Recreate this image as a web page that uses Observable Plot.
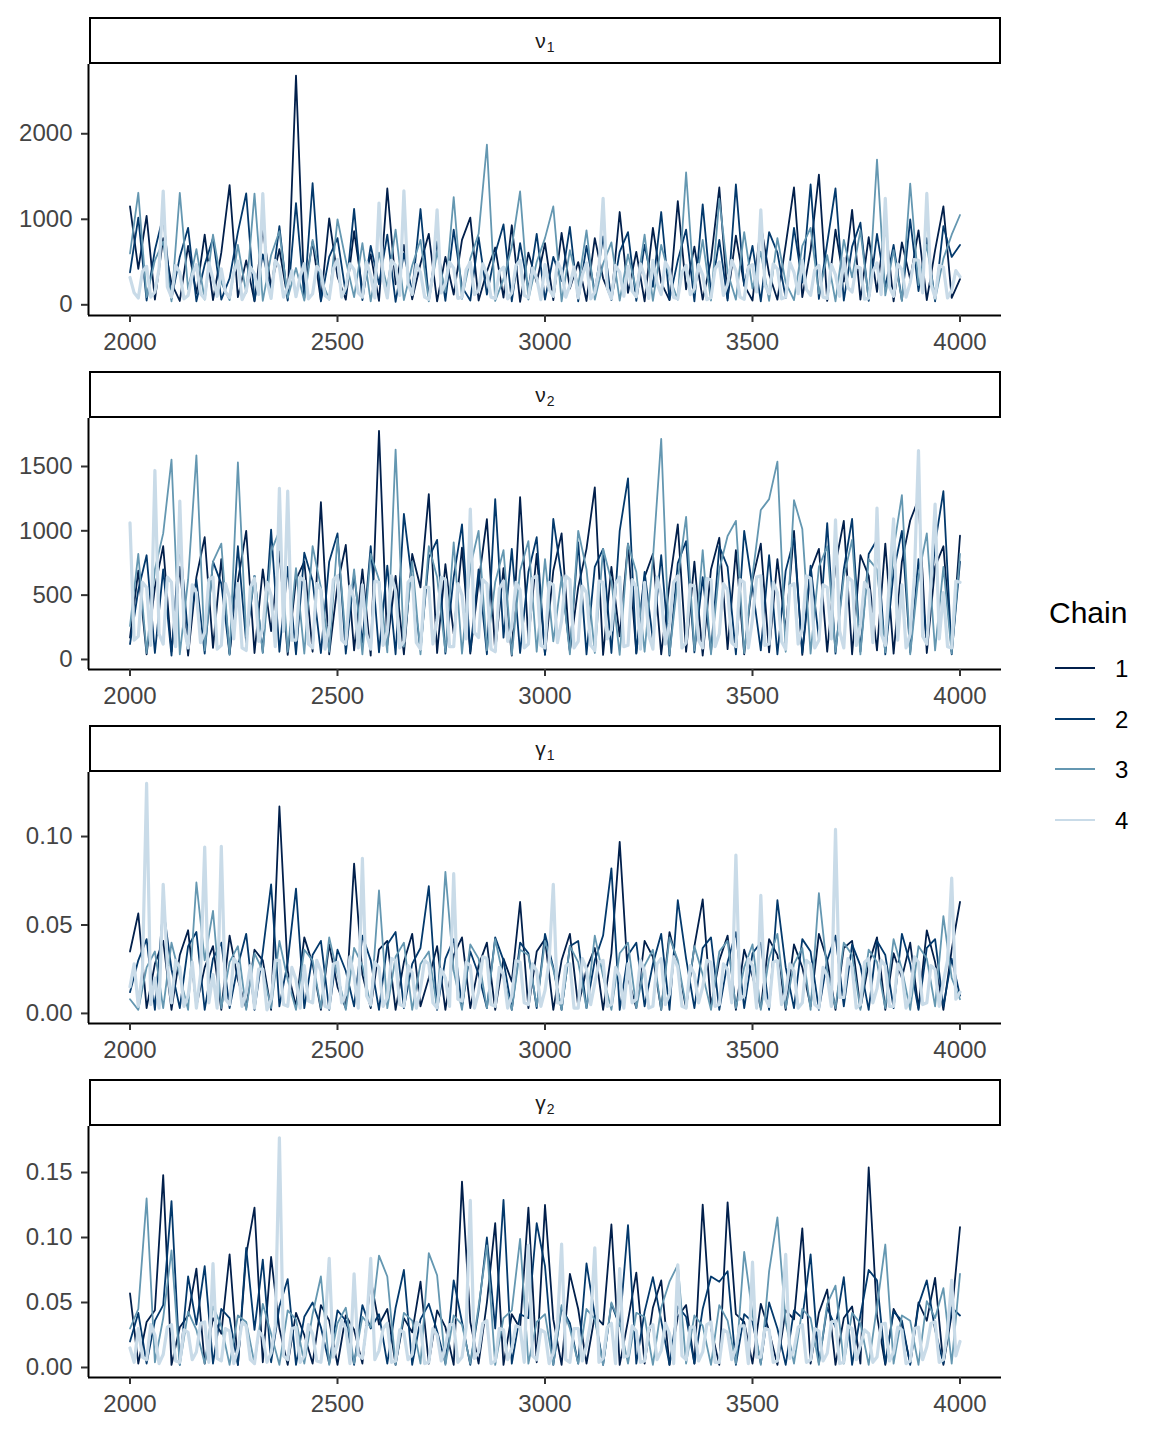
<!DOCTYPE html>
<html>
<head>
<meta charset="utf-8">
<script src="https://cdn.jsdelivr.net/npm/d3@7"></script>
<script src="https://cdn.jsdelivr.net/npm/@observablehq/plot@0.6"></script>
<style>
  body { margin: 0; background: #fff; }
  #root { position: relative; width: 1166px; height: 1432px; font-family: "Liberation Sans", Arial, sans-serif; background:#fff; }
  .strip { position: absolute; left: 89px; width: 912px; height: 47px; box-sizing: border-box; border: 2px solid #000;
           display: flex; align-items: center; justify-content: center; color: #1a1a1a; }
  .strip .g { font-size: 21px; }
  .strip .s { font-size: 14px; position: relative; top: 6px; margin-left: 1px; }
  .panel { position: absolute; left: 0; }
  .lg-title { position: absolute; left: 1049px; top: 596px; font-size: 30px; color: #000; }
  .lg-key { position: absolute; left: 1055px; width: 40px; height: 2px; }
  .lg-lab { position: absolute; left: 1115px; font-size: 24px; color: #000; line-height: 24px; }
</style>
</head>
<body>
<div id="root"></div>
<script>
// ---- iterations (x) and tick labels ----
// chains 1-3 are read every 20 iterations, chain 4 (the light band) every 10
const iterations = d3.range(2000, 4001, 20);
const iterFine = d3.range(2000, 4001, 10);
const xTicks = [2000, 2500, 3000, 3500, 4000];
const chains = ["1", "2", "3", "4"];
const chainColors = ["#011f4b", "#03396c", "#6497b1", "#c9dbe8"];
const chainWidths = [1.8, 1.8, 1.8, 3.2];

// ---- nu_1 ----
const nu1Ticks = [0, 1000, 2000];
const nu1_c1 = [1150,420,1040,60,780,250,45,690,130,820, 55,610,1400,90,520,40,880,210,650,70,
  2680,150,740,50,1010,330,60,860,180,590, 45,1360,240,700,65,480,830,40,560,120,
  760,1020,50,390,670,85,930,35,610,260, 720,55,840,190,500,45,780,310,70,1085,
  140,620,40,900,260,55,1213,180,680,60, 520,1372,75,810,230,50,940,360,60,700,
  1372,90,640,1523,45,880,270,1110,60,790, 150,960,40,730,300,870,55,640,1151,80, 300];
const nu1_c2 = [380,1020,50,640,1040,70,560,900,40,470, 780,60,310,850,1302,45,590,160,920,50,
  1190,80,1422,40,560,780,130,1122,55,690, 240,820,35,600,150,1120,70,740,45,880,
  210,50,790,120,600,940,40,720,180,830, 60,560,280,910,40,690,150,800,55,620,
  850,45,700,210,1085,60,520,880,40,1174, 130,760,50,1407,220,690,40,850,610,80,
  900,260,1407,70,720,1360,50,680,960,45, 830,210,700,50,1000,160,780,40,920,560, 700];
const nu1_c3 = [600,1310,90,520,740,40,1310,180,650,60, 820,260,55,700,140,1300,45,580,860,80,
  430,50,760,300,60,1000,520,90,720,40, 610,200,880,55,460,760,40,620,150,1260,
  70,540,830,1872,45,300,680,1325,60,500, 780,1150,40,640,220,870,60,480,730,50,
  590,170,820,45,700,320,60,1547,140,760, 50,1240,380,60,850,190,620,45,780,260,
  55,690,900,130,580,40,760,320,870,60, 1698,110,640,45,1418,230,700,60,540,820, 1050];
const nu1_c4 = [
  320,140,80,390,450,90,150,420,1330,210,90,460,380,70,110,350,470,130,70,490,
  300,100,420,150,85,380,510,60,160,440,360,120,1300,280,75,520,440,90,210,400,
  95,330,480,70,130,450,390,110,70,420,530,90,200,480,410,140,90,500,340,80,
  1190,300,80,520,460,110,1333,250,120,470,380,90,65,360,1110,140,250,500,430,75,
  90,410,500,120,170,480,360,90,75,390,440,70,140,460,520,110,85,430,310,60,
  470,180,100,500,400,90,230,440,80,350,490,70,150,410,1244,200,70,460,380,100,
  450,160,95,480,330,75,520,250,120,500,410,85,70,380,460,120,190,470,350,60,
  85,420,500,110,240,520,400,90,65,440,470,150,1110,230,130,480,420,70,90,500,
  380,130,520,180,110,410,460,90,75,470,350,100,540,200,150,450,430,65,80,390,
  490,120,1245,210,100,480,410,90,260,530,520,140,1302,240,85,460,440,80,170,400,
  330];

// ---- nu_2 ----
const nu2Ticks = [0, 500, 1000, 1500];
const nu2_c1 = [170,690,40,560,880,60,720,30,640,950, 90,780,45,610,1000,50,700,220,840,35,
  620,760,60,1223,40,580,890,70,700,30, 1777,110,650,40,820,560,1285,50,740,200,
  870,45,600,1090,60,710,30,1262,150,820, 40,690,980,70,560,860,1338,35,720,180,
  900,50,640,820,40,590,1050,60,760,30, 700,946,80,850,40,620,900,55,780,220,
  1000,35,690,860,60,740,1077,40,810,650, 70,900,45,760,1080,1246,50,720,880,60, 962];
const nu2_c2 = [120,540,810,50,700,30,930,180,620,45, 760,590,40,880,130,650,55,1010,60,720,
  40,830,610,50,760,980,45,660,130,880, 55,730,40,1131,600,70,790,930,45,640,
  1050,60,700,40,1246,170,860,50,680,950, 35,1092,640,60,910,40,720,860,50,1000,
  1408,45,680,150,810,30,750,920,55,640, 60,880,720,40,1000,560,70,810,40,690,
  940,50,730,160,1060,45,700,1092,60,820, 930,40,680,1000,55,780,150,900,1308,40, 760];
const nu2_c3 = [260,820,50,700,980,1554,40,620,1587,70, 760,900,35,1531,180,650,50,840,1000,60,
  710,45,880,560,60,940,150,700,40,820, 620,55,1631,100,760,40,880,640,60,910,
  45,720,1000,70,600,850,35,690,920,60, 780,140,640,40,1000,700,50,860,610,35,
  900,680,60,780,1715,40,620,1108,70,850, 40,700,960,1077,50,650,1162,1246,1538,60,
  1238,1015,45,720,880,60,640,930,40,780, 700,55,860,1277,40,650,980,70,720,45, 820];
const nu2_c4 = [
  1062,150,180,600,560,110,1469,200,120,640,600,100,1231,250,90,580,520,130,210,620,
  640,80,110,590,480,160,590,90,70,560,630,140,240,600,500,100,1331,220,1308,150,
  150,640,610,120,90,590,540,80,260,620,650,150,120,570,470,90,580,200,80,610,
  600,110,220,650,530,90,140,600,640,130,80,560,560,120,310,640,620,100,100,590,
  500,160,1169,210,170,620,590,80,60,550,610,140,250,600,540,90,120,630,650,110,
  90,600,580,130,300,650,620,90,140,570,520,110,70,610,600,160,230,590,640,100,
  110,620,560,80,600,190,80,640,510,120,280,600,650,90,130,580,570,150,90,630,
  620,100,200,590,540,130,100,620,600,90,310,640,650,110,120,600,520,140,80,570,
  590,120,240,650,630,90,150,580,560,160,1085,220,90,640,610,110,270,600,540,130,
  1177,200,110,620,1092,150,580,90,200,640,1623,180,120,590,1208,160,520,100,90,610,
  600];

// ---- gamma_1 ----
const g1Ticks = [0, 0.05, 0.10];
const g1_c1 = [.035,.0565,.003,.028,.041,.002,.033,.047,.004,.026, .038,.002,.044,.019,.003,.036,.030,.002,.117,.024,
  .004,.043,.028,.002,.039,.015,.003,.0847,.022,.003, .036,.041,.002,.029,.045,.004,.020,.038,.002,.033,
  .043,.003,.027,.040,.002,.031,.018,.063,.003,.035, .042,.002,.030,.045,.004,.025,.037,.002,.034,.097,
  .020,.003,.041,.032,.002,.046,.027,.003,.038,.0645, .004,.030,.044,.002,.036,.021,.003,.042,.033,.002,
  .039,.026,.004,.045,.030,.002,.037,.041,.003,.028, .043,.002,.034,.020,.040,.003,.047,.029,.002,.036, .063];
const g1_c2 = [.012,.030,.042,.002,.060,.025,.003,.038,.046,.002, .031,.040,.003,.027,.045,.002,.035,.073,.004,.029,
  .0706,.003,.033,.041,.002,.036,.024,.004,.044,.030, .002,.039,.046,.003,.028,.037,.072,.002,.031,.042,
  .004,.035,.022,.003,.043,.030,.002,.040,.034,.003, .045,.026,.002,.038,.041,.003,.030,.044,.082,.002,
  .033,.040,.004,.028,.045,.002,.064,.031,.003,.037, .043,.002,.029,.046,.003,.034,.040,.002,.064,.026,
  .003,.042,.035,.002,.030,.044,.004,.039,.027,.002, .041,.033,.003,.045,.028,.002,.037,.042,.004,.031, .010];
const g1_c3 = [.008,.002,.026,.035,.003,.040,.021,.002,.074,.030, .058,.003,.029,.038,.002,.034,.024,.003,.041,.019,
  .002,.036,.030,.003,.043,.022,.002,.037,.027,.004, .0695,.003,.032,.040,.002,.028,.035,.003,.080,.024,
  .002,.039,.031,.003,.042,.020,.002,.036,.033,.004, .041,.025,.002,.038,.029,.003,.044,.021,.002,.034,
  .040,.003,.027,.036,.002,.043,.030,.004,.038,.022, .002,.035,.041,.003,.026,.039,.002,.031,.045,.003,
  .028,.037,.002,.068,.024,.003,.040,.033,.002,.036, .029,.003,.042,.025,.002,.038,.031,.004,.055,.020, .008];
const g1_c4 = [
  .015,.028,.004,.024,.130,.005,.020,.003,.073,.027,.006,.030,.026,.004,.010,.029,.003,.022,.094,.006,
  .022,.003,.0945,.008,.005,.031,.028,.004,.012,.027,.003,.025,.025,.002,.008,.030,.030,.005,.004,.026,
  .019,.003,.027,.007,.006,.030,.024,.004,.003,.028,.029,.006,.011,.032,.021,.003,.0876,.010,.005,.029,
  .026,.004,.009,.031,.030,.005,.004,.027,.023,.003,.014,.030,.028,.006,.003,.025,.020,.004,.079,.008,
  .007,.029,.027,.003,.012,.032,.031,.005,.004,.026,.022,.003,.010,.030,.029,.006,.005,.028,.024,.004,
  .013,.030,.073,.006,.006,.027,.028,.003,.003,.031,.025,.005,.017,.029,.030,.004,.005,.026,.021,.003,
  .028,.006,.008,.030,.024,.003,.004,.028,.031,.005,.011,.032,.026,.004,.003,.027,.022,.006,.015,.030,
  .029,.004,.005,.028,.025,.006,.0895,.008,.010,.031,.027,.003,.0667,.009,.004,.029,.030,.005,.012,.028,
  .024,.003,.006,.030,.028,.005,.003,.026,.021,.004,.104,.009,.009,.031,.026,.003,.005,.029,.031,.006,
  .014,.030,.027,.004,.004,.028,.023,.003,.010,.032,.029,.005,.006,.027,.025,.004,.018,.030,.0765,.008,
  .012];

// ---- gamma_2 ----
const g2Ticks = [0, 0.05, 0.10, 0.15];
const g2_c1 = [.057,.003,.035,.044,.148,.002,.031,.040,.076,.003, .038,.026,.087,.002,.087,.123,.004,.085,.030,.002,
  .042,.025,.003,.048,.036,.002,.040,.029,.003,.068, .033,.045,.002,.038,.027,.066,.003,.044,.031,.002,
  .143,.035,.003,.050,.111,.002,.041,.030,.123,.004, .125,.037,.002,.072,.045,.003,.040,.033,.110,.002,
  .036,.073,.003,.046,.067,.002,.039,.048,.003,.1253, .030,.002,.127,.041,.035,.003,.049,.028,.002,.044,
  .037,.107,.003,.042,.060,.002,.038,.047,.003,.154, .040,.002,.045,.033,.003,.050,.036,.069,.002,.041, .108];
const g2_c2 = [.020,.042,.003,.036,.048,.128,.002,.070,.033,.078, .003,.045,.038,.002,.092,.029,.083,.004,.047,.068,
  .002,.039,.050,.031,.003,.044,.036,.002,.048,.030, .041,.003,.046,.075,.002,.037,.049,.028,.003,.067,
  .035,.002,.044,.100,.030,.129,.003,.041,.038,.111, .078,.002,.046,.034,.003,.080,.040,.002,.049,.032,
  .1095,.003,.043,.0695,.036,.002,.047,.039,.003,.045, .070,.066,.074,.002,.041,.035,.003,.050,.030,.002,
  .044,.038,.087,.003,.046,.031,.0695,.002,.040,.075, .067,.003,.043,.036,.002,.048,.067,.029,.003,.046, .040];
const g2_c3 = [.030,.045,.130,.004,.038,.090,.002,.043,.029,.003, .047,.032,.002,.040,.035,.003,.049,.026,.002,.044,
  .037,.003,.041,.070,.002,.034,.046,.003,.039,.031, .086,.070,.002,.042,.036,.003,.088,.071,.002,.040,
  .033,.003,.047,.094,.002,.038,.044,.099,.003,.035, .041,.002,.048,.030,.003,.045,.037,.002,.050,.034,
  .003,.042,.039,.002,.046,.066,.079,.003,.040,.032, .002,.048,.036,.003,.089,.041,.002,.074,.1155,.035,
  .003,.045,.038,.002,.049,.063,.003,.042,.034,.002, .047,.0946,.003,.040,.036,.002,.051,.038,.061,.003, .072];
const g2_c4 = [
  .015,.004,.030,.008,.006,.033,.025,.003,.010,.031,.033,.005,.004,.029,.027,.006,.012,.034,.035,.004,
  .080,.007,.005,.030,.028,.003,.014,.035,.032,.006,.003,.028,.024,.004,.011,.032,.1767,.009,.006,.030,
  .031,.004,.009,.033,.026,.005,.004,.031,.084,.008,.018,.036,.030,.003,.072,.010,.007,.032,.084,.006,
  .013,.030,.034,.004,.005,.029,.027,.006,.010,.035,.032,.003,.004,.030,.025,.005,.016,.033,.033,.004,
  .008,.031,.1285,.007,.012,.034,.036,.003,.005,.030,.029,.006,.015,.032,.031,.004,.094,.009,.006,.029,
  .027,.003,.011,.033,.095,.006,.004,.030,.030,.005,.017,.035,.092,.004,.007,.031,.034,.003,.076,.008,
  .009,.032,.028,.004,.005,.030,.033,.006,.013,.034,.026,.003,.079,.009,.006,.031,.031,.005,.012,.033,
  .035,.004,.004,.029,.027,.006,.015,.032,.032,.003,.081,.008,.008,.030,.029,.004,.005,.034,.087,.007,
  .014,.031,.033,.004,.006,.030,.028,.005,.011,.035,.036,.003,.004,.032,.030,.006,.017,.029,.026,.004,
  .008,.033,.034,.005,.012,.031,.029,.003,.005,.030,.031,.006,.016,.034,.035,.004,.006,.029,.067,.009,
  .020];

// ---- panel definitions ----
const panels = [
  { sym: "ν", sub: "1", series: [nu1_c1, nu1_c2, nu1_c3, nu1_c4], domain: [-125, 2810], ticks: nu1Ticks, fmt: d3.format("d") },
  { sym: "ν", sub: "2", series: [nu2_c1, nu2_c2, nu2_c3, nu2_c4], domain: [-78, 1873], ticks: nu2Ticks, fmt: d3.format("d") },
  { sym: "γ", sub: "1", series: [g1_c1, g1_c2, g1_c3, g1_c4], domain: [-0.0057, 0.1362], ticks: g1Ticks, fmt: d3.format(".2f") },
  { sym: "γ", sub: "2", series: [g2_c1, g2_c2, g2_c3, g2_c4], domain: [-0.0077, 0.1854], ticks: g2Ticks, fmt: d3.format(".2f") }
];

const root = document.getElementById("root");
const STEP = 354;
const PH = 251; // plot area height

panels.forEach((p, k) => {
  const strip = document.createElement("div");
  strip.className = "strip";
  strip.style.top = (17 + STEP * k) + "px";
  strip.innerHTML = `<span class="g">${p.sym}</span><span class="s">${p.sub}</span>`;
  root.appendChild(strip);

  const marks = [];
  p.series.forEach((arr, c) => {
    const xs = arr.length === iterFine.length ? iterFine : iterations;
    const data = xs.map((it, i) => ({ iter: it, value: arr[i] }));
    marks.push(Plot.line(data, { x: "iter", y: "value", stroke: chainColors[c], strokeWidth: chainWidths[c] }));
  });
  marks.push(Plot.ruleY([p.domain[0]], { stroke: "#000", strokeWidth: 2 }));
  marks.push(Plot.ruleX([1900], { stroke: "#000", strokeWidth: 2 }));
  marks.push(Plot.axisY({ ticks: p.ticks, tickFormat: p.fmt, tickSize: 7, tickPadding: 9, fontSize: 24,
    stroke: "#333", strokeWidth: 2, fill: "#444", label: null }));
  marks.push(Plot.axisX({ ticks: xTicks, tickFormat: d3.format("d"), tickSize: 7, tickPadding: 10, fontSize: 24,
    stroke: "#333", strokeWidth: 2, fill: "#444", label: null }));

  const chart = Plot.plot({
    width: 1001,
    height: PH + 60,
    marginLeft: 88,
    marginRight: 0,
    marginTop: 0,
    marginBottom: 60,
    x: { domain: [1900, 4100] },
    y: { domain: p.domain },
    style: { fontFamily: "Liberation Sans, Arial, sans-serif", background: "transparent", overflow: "visible", color: "#444" },
    marks
  });
  const wrap = document.createElement("div");
  wrap.className = "panel";
  wrap.style.top = (64 + STEP * k) + "px";
  wrap.appendChild(chart);
  root.appendChild(wrap);
});

// ---- legend ----
const title = document.createElement("div");
title.className = "lg-title";
title.textContent = "Chain";
root.appendChild(title);
const keyY = [668, 719, 769, 820];
chains.forEach((ch, i) => {
  const key = document.createElement("div");
  key.className = "lg-key";
  key.style.top = (keyY[i] - 1) + "px";
  key.style.background = chainColors[i];
  root.appendChild(key);
  const lab = document.createElement("div");
  lab.className = "lg-lab";
  lab.style.top = (keyY[i] - 11) + "px";
  lab.textContent = ch;
  root.appendChild(lab);
});
</script>
</body>
</html>
